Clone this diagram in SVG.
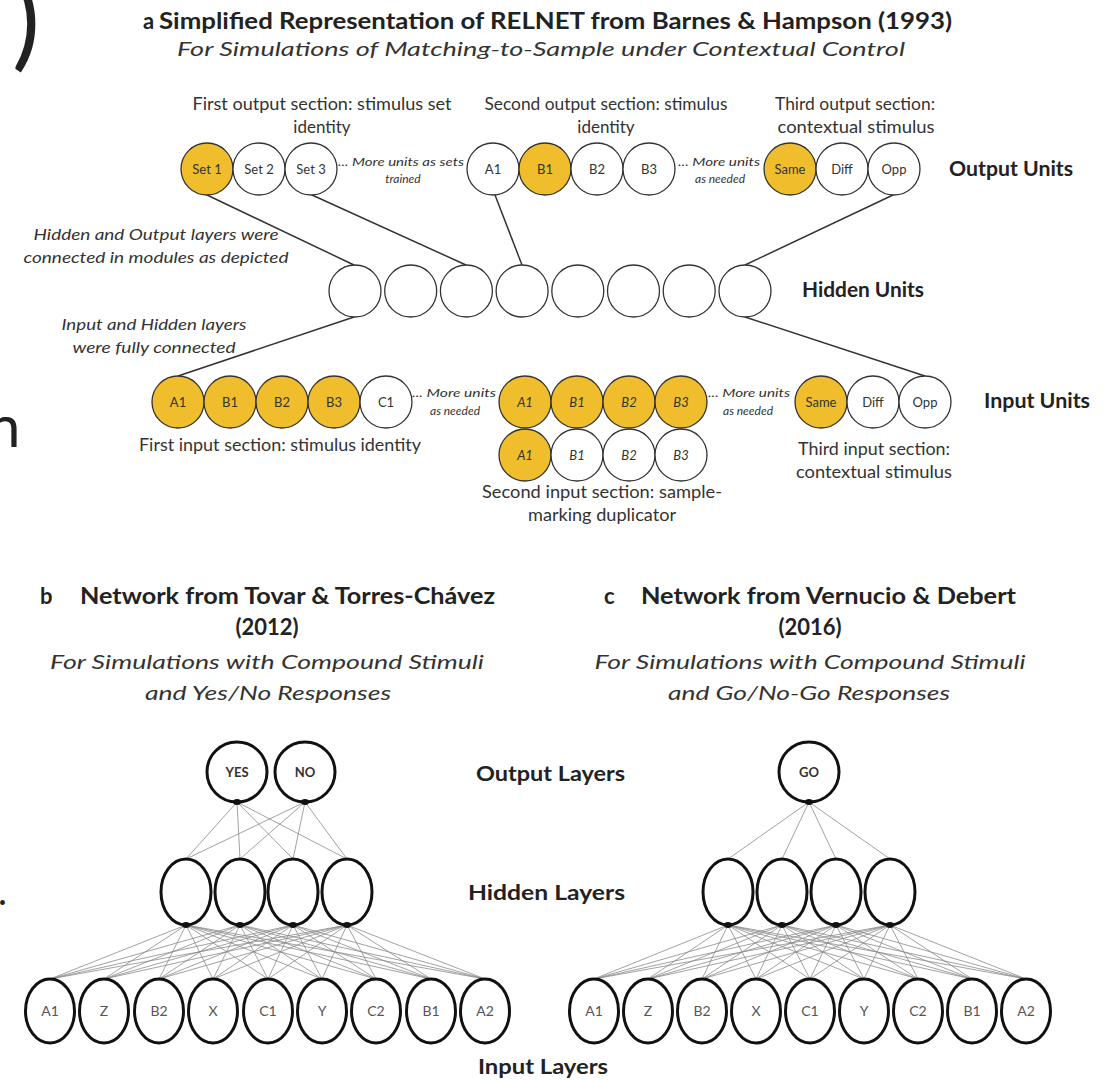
<svg xmlns="http://www.w3.org/2000/svg" width="1107" height="1080" viewBox="0 0 1107 1080">
<defs>
<style>
text{font-family:Lato,"Liberation Sans",sans-serif;fill:#222}
.u{fill:#fff;stroke:#333;stroke-width:1.3}
.y{fill:#F0BE2C}
.lab{font-size:13px;fill:#333;text-anchor:middle}
.ital{font-style:italic}
.sm{font-size:12px;font-style:italic;fill:#333}
.hd{font-size:17px;fill:#333;text-anchor:middle}
.ann{font-size:16px;font-style:italic;fill:#333;text-anchor:middle}
.big{font-size:21px;font-weight:bold}
.ttl{font-size:22px;font-weight:bold}
.sub{font-size:20px;font-style:italic;fill:#333;text-anchor:middle}
.bu{fill:#fff;stroke:#111;stroke-width:3}
.bl{font-size:14px;fill:#555;text-anchor:middle}
.bo{font-size:13px;font-weight:bold;fill:#333;text-anchor:middle}
.conn{stroke:#333;stroke-width:1.5;fill:none}
.thin{stroke:#8a8a8a;stroke-width:0.8;fill:none}
.dot{fill:#111}
</style>
</defs>
<rect width="1107" height="1080" fill="#fff"/>

<!-- cropped fragments at left edge -->
<text x="12" y="57" font-size="105" fill="#111">)</text>
<text x="-12" y="447" font-size="58" fill="#111">n</text>
<text x="-2" y="905" font-size="38" fill="#111">.</text>

<!-- Panel a titles -->
<text x="143" y="29" class="ttl">a</text>
<text x="159" y="29" class="ttl" textLength="793" lengthAdjust="spacingAndGlyphs">Simplified Representation of RELNET from Barnes &amp; Hampson (1993)</text>
<text x="541" y="56" class="sub" textLength="728" lengthAdjust="spacingAndGlyphs">For Simulations of Matching-to-Sample under Contextual Control</text>

<text x="322" y="110" class="hd" textLength="259" lengthAdjust="spacingAndGlyphs">First output section: stimulus set</text>
<text x="322" y="133" class="hd">identity</text>
<text x="606" y="110" class="hd" textLength="243" lengthAdjust="spacingAndGlyphs">Second output section: stimulus</text>
<text x="606" y="133" class="hd">identity</text>
<text x="855" y="110" class="hd" textLength="160" lengthAdjust="spacingAndGlyphs">Third output section:</text>
<text x="856" y="133" class="hd" textLength="157" lengthAdjust="spacingAndGlyphs">contextual stimulus</text>

<text x="949" y="176" class="big" textLength="124" lengthAdjust="spacingAndGlyphs">Output Units</text>
<text x="802" y="297" class="big" textLength="122" lengthAdjust="spacingAndGlyphs">Hidden Units</text>
<text x="984" y="408" class="big" textLength="106" lengthAdjust="spacingAndGlyphs">Input Units</text>

<text x="338" y="166" class="sm" textLength="126" lengthAdjust="spacingAndGlyphs">... More units as sets</text>
<text x="403" y="183" class="sm" text-anchor="middle">trained</text>
<text x="678" y="166" class="sm" textLength="82" lengthAdjust="spacingAndGlyphs">... More units</text>
<text x="720" y="183" class="sm" text-anchor="middle">as needed</text>
<text x="412" y="397" class="sm" textLength="84" lengthAdjust="spacingAndGlyphs">... More units</text>
<text x="455" y="415" class="sm" text-anchor="middle">as needed</text>
<text x="708" y="397" class="sm" textLength="82" lengthAdjust="spacingAndGlyphs">... More units</text>
<text x="748" y="415" class="sm" text-anchor="middle">as needed</text>

<text x="156" y="240" class="ann" textLength="245" lengthAdjust="spacingAndGlyphs">Hidden and Output layers were</text>
<text x="156" y="263" class="ann" textLength="265" lengthAdjust="spacingAndGlyphs">connected in modules as depicted</text>
<text x="154" y="330" class="ann" textLength="185" lengthAdjust="spacingAndGlyphs">Input and Hidden layers</text>
<text x="154" y="353" class="ann" textLength="163" lengthAdjust="spacingAndGlyphs">were fully connected</text>

<text x="280" y="451" class="hd" textLength="282" lengthAdjust="spacingAndGlyphs">First input section: stimulus identity</text>
<text x="602" y="498" class="hd" textLength="240" lengthAdjust="spacingAndGlyphs">Second input section: sample-</text>
<text x="602" y="521" class="hd" textLength="148" lengthAdjust="spacingAndGlyphs">marking duplicator</text>
<text x="874" y="455" class="hd" textLength="152" lengthAdjust="spacingAndGlyphs">Third input section:</text>
<text x="874" y="478" class="hd" textLength="156" lengthAdjust="spacingAndGlyphs">contextual stimulus</text>

<!-- Panel a connectors -->
<g id="connectors-a">
<line class="conn" x1="207" y1="195" x2="354" y2="265"/>
<line class="conn" x1="312" y1="195" x2="466" y2="265"/>
<line class="conn" x1="495" y1="195" x2="522" y2="265"/>
<line class="conn" x1="893" y1="195" x2="745" y2="265"/>
<line class="conn" x1="354" y1="317" x2="178" y2="376"/>
<line class="conn" x1="745" y1="317" x2="925" y2="376"/>
</g>

<!-- Output units -->
<g id="out-set1"><circle class="u y" cx="207" cy="169" r="26"/><text x="207" y="173.5" class="lab">Set 1</text></g>
<g id="out-set2"><circle class="u" cx="259" cy="169" r="26"/><text x="259" y="173.5" class="lab">Set 2</text></g>
<g id="out-set3"><circle class="u" cx="311" cy="169" r="26"/><text x="311" y="173.5" class="lab">Set 3</text></g>
<g id="out-a1"><circle class="u" cx="493" cy="169" r="26"/><text x="493" y="173.5" class="lab">A1</text></g>
<g id="out-b1"><circle class="u y" cx="545" cy="169" r="26"/><text x="545" y="173.5" class="lab">B1</text></g>
<g id="out-b2"><circle class="u" cx="597" cy="169" r="26"/><text x="597" y="173.5" class="lab">B2</text></g>
<g id="out-b3"><circle class="u" cx="649" cy="169" r="26"/><text x="649" y="173.5" class="lab">B3</text></g>
<g id="out-same"><circle class="u y" cx="790" cy="169" r="26"/><text x="790" y="173.5" class="lab">Same</text></g>
<g id="out-diff"><circle class="u" cx="842" cy="169" r="26"/><text x="842" y="173.5" class="lab">Diff</text></g>
<g id="out-opp"><circle class="u" cx="894" cy="169" r="26"/><text x="894" y="173.5" class="lab">Opp</text></g>

<!-- Hidden units -->
<g id="hid-1"><circle class="u" cx="355" cy="291" r="26"/></g>
<g id="hid-2"><circle class="u" cx="410.7" cy="291" r="26"/></g>
<g id="hid-3"><circle class="u" cx="466.4" cy="291" r="26"/></g>
<g id="hid-4"><circle class="u" cx="522.1" cy="291" r="26"/></g>
<g id="hid-5"><circle class="u" cx="577.8" cy="291" r="26"/></g>
<g id="hid-6"><circle class="u" cx="633.5" cy="291" r="26"/></g>
<g id="hid-7"><circle class="u" cx="689.2" cy="291" r="26"/></g>
<g id="hid-8"><circle class="u" cx="745" cy="291" r="26"/></g>

<!-- Input units -->
<g id="in-a1"><circle class="u y" cx="178" cy="402" r="26"/><text x="178" y="406.5" class="lab">A1</text></g>
<g id="in-b1"><circle class="u y" cx="230" cy="402" r="26"/><text x="230" y="406.5" class="lab">B1</text></g>
<g id="in-b2"><circle class="u y" cx="282" cy="402" r="26"/><text x="282" y="406.5" class="lab">B2</text></g>
<g id="in-b3"><circle class="u y" cx="334" cy="402" r="26"/><text x="334" y="406.5" class="lab">B3</text></g>
<g id="in-c1"><circle class="u" cx="386" cy="402" r="26"/><text x="386" y="406.5" class="lab">C1</text></g>
<g id="in2-a1"><circle class="u y" cx="525" cy="402" r="26"/><text x="525" y="406.5" class="lab ital">A1</text></g>
<g id="in2-b1"><circle class="u y" cx="577" cy="402" r="26"/><text x="577" y="406.5" class="lab ital">B1</text></g>
<g id="in2-b2"><circle class="u y" cx="629" cy="402" r="26"/><text x="629" y="406.5" class="lab ital">B2</text></g>
<g id="in2-b3"><circle class="u y" cx="681" cy="402" r="26"/><text x="681" y="406.5" class="lab ital">B3</text></g>
<g id="in2s-a1"><circle class="u y" cx="525" cy="455" r="26"/><text x="525" y="459.5" class="lab ital">A1</text></g>
<g id="in2s-b1"><circle class="u" cx="577" cy="455" r="26"/><text x="577" y="459.5" class="lab ital">B1</text></g>
<g id="in2s-b2"><circle class="u" cx="629" cy="455" r="26"/><text x="629" y="459.5" class="lab ital">B2</text></g>
<g id="in2s-b3"><circle class="u" cx="681" cy="455" r="26"/><text x="681" y="459.5" class="lab ital">B3</text></g>
<g id="in-same"><circle class="u y" cx="821" cy="402" r="26"/><text x="821" y="406.5" class="lab">Same</text></g>
<g id="in-diff"><circle class="u" cx="873" cy="402" r="26"/><text x="873" y="406.5" class="lab">Diff</text></g>
<g id="in-opp"><circle class="u" cx="925" cy="402" r="26"/><text x="925" y="406.5" class="lab">Opp</text></g>

<!-- Panel b/c titles -->
<text x="40" y="604" class="ttl">b</text>
<text x="80" y="604" class="ttl" textLength="415" lengthAdjust="spacingAndGlyphs">Network from Tovar &amp; Torres-Chávez</text>
<text x="267" y="635" class="ttl" text-anchor="middle">(2012)</text>
<text x="267" y="669" class="sub" textLength="434" lengthAdjust="spacingAndGlyphs">For Simulations with Compound Stimuli</text>
<text x="268" y="700" class="sub" textLength="246" lengthAdjust="spacingAndGlyphs">and Yes/No Responses</text>

<text x="604" y="604" class="ttl">c</text>
<text x="641" y="604" class="ttl" textLength="375" lengthAdjust="spacingAndGlyphs">Network from Vernucio &amp; Debert</text>
<text x="810" y="635" class="ttl" text-anchor="middle">(2016)</text>
<text x="810" y="669" class="sub" textLength="431" lengthAdjust="spacingAndGlyphs">For Simulations with Compound Stimuli</text>
<text x="809" y="700" class="sub" textLength="282" lengthAdjust="spacingAndGlyphs">and Go/No-Go Responses</text>

<text x="476" y="781" class="big" textLength="149" lengthAdjust="spacingAndGlyphs">Output Layers</text>
<text x="468" y="900" class="big" textLength="157" lengthAdjust="spacingAndGlyphs">Hidden Layers</text>
<text x="478" y="1074" class="big" textLength="130" lengthAdjust="spacingAndGlyphs">Input Layers</text>

<!-- Panel b/c connectors -->
<g id="connectors-bc">
<path class="thin" d="M186 859L237 802M186 859L305 802M240 859L237 802M240 859L305 802M293 859L237 802M293 859L305 802M347 859L237 802M347 859L305 802"/>
<path class="thin" d="M728 859L809 802M782 859L809 802M836 859L809 802M890 859L809 802"/>
<path class="thin" d="M50 979L186 925M50 979L240 925M50 979L293 925M50 979L347 925
M104 979L186 925M104 979L240 925M104 979L293 925M104 979L347 925
M159 979L186 925M159 979L240 925M159 979L293 925M159 979L347 925
M213 979L186 925M213 979L240 925M213 979L293 925M213 979L347 925
M268 979L186 925M268 979L240 925M268 979L293 925M268 979L347 925
M322 979L186 925M322 979L240 925M322 979L293 925M322 979L347 925
M376 979L186 925M376 979L240 925M376 979L293 925M376 979L347 925
M431 979L186 925M431 979L240 925M431 979L293 925M431 979L347 925
M485 979L186 925M485 979L240 925M485 979L293 925M485 979L347 925"/>
<path class="thin" d="M594 979L728 925M594 979L782 925M594 979L836 925M594 979L890 925
M648 979L728 925M648 979L782 925M648 979L836 925M648 979L890 925
M702 979L728 925M702 979L782 925M702 979L836 925M702 979L890 925
M756 979L728 925M756 979L782 925M756 979L836 925M756 979L890 925
M810 979L728 925M810 979L782 925M810 979L836 925M810 979L890 925
M864 979L728 925M864 979L782 925M864 979L836 925M864 979L890 925
M918 979L728 925M918 979L782 925M918 979L836 925M918 979L890 925
M972 979L728 925M972 979L782 925M972 979L836 925M972 979L890 925
M1026 979L728 925M1026 979L782 925M1026 979L836 925M1026 979L890 925"/>
</g>

<!-- Panel b nodes -->
<g id="b-yes"><circle class="bu y" cx="237" cy="772" r="30"/><text x="237" y="776.5" class="bo">YES</text><ellipse class="dot" cx="237" cy="802" rx="4" ry="3"/></g>
<g id="b-no"><circle class="bu" cx="305" cy="772" r="30"/><text x="305" y="776.5" class="bo">NO</text><ellipse class="dot" cx="305" cy="802" rx="4" ry="3"/></g>
<g id="b-h1"><ellipse class="bu" cx="186" cy="892" rx="25" ry="33"/><ellipse class="dot" cx="186" cy="925" rx="4" ry="3"/></g>
<g id="b-h2"><ellipse class="bu" cx="240" cy="892" rx="25" ry="33"/><ellipse class="dot" cx="240" cy="925" rx="4" ry="3"/></g>
<g id="b-h3"><ellipse class="bu" cx="293" cy="892" rx="25" ry="33"/><ellipse class="dot" cx="293" cy="925" rx="4" ry="3"/></g>
<g id="b-h4"><ellipse class="bu" cx="347" cy="892" rx="25" ry="33"/><ellipse class="dot" cx="347" cy="925" rx="4" ry="3"/></g>
<g id="b-a1"><ellipse class="bu y" cx="50" cy="1011" rx="24.5" ry="32"/><text x="50" y="1016" class="bl">A1</text></g>
<g id="b-z"><ellipse class="bu" cx="104" cy="1011" rx="24.5" ry="32"/><text x="104" y="1016" class="bl">Z</text></g>
<g id="b-b2"><ellipse class="bu" cx="159" cy="1011" rx="24.5" ry="32"/><text x="159" y="1016" class="bl">B2</text></g>
<g id="b-x"><ellipse class="bu" cx="213" cy="1011" rx="24.5" ry="32"/><text x="213" y="1016" class="bl">X</text></g>
<g id="b-c1"><ellipse class="bu" cx="268" cy="1011" rx="24.5" ry="32"/><text x="268" y="1016" class="bl">C1</text></g>
<g id="b-y"><ellipse class="bu" cx="322" cy="1011" rx="24.5" ry="32"/><text x="322" y="1016" class="bl">Y</text></g>
<g id="b-c2"><ellipse class="bu" cx="376" cy="1011" rx="24.5" ry="32"/><text x="376" y="1016" class="bl">C2</text></g>
<g id="b-b1"><ellipse class="bu y" cx="431" cy="1011" rx="24.5" ry="32"/><text x="431" y="1016" class="bl">B1</text></g>
<g id="b-a2"><ellipse class="bu" cx="485" cy="1011" rx="24.5" ry="32"/><text x="485" y="1016" class="bl">A2</text></g>

<!-- Panel c nodes -->
<g id="c-go"><circle class="bu y" cx="809" cy="772" r="30"/><text x="809" y="776.5" class="bo">GO</text><ellipse class="dot" cx="809" cy="802" rx="4" ry="3"/></g>
<g id="c-h1"><ellipse class="bu" cx="728" cy="892" rx="25" ry="33"/><ellipse class="dot" cx="728" cy="925" rx="4" ry="3"/></g>
<g id="c-h2"><ellipse class="bu" cx="782" cy="892" rx="25" ry="33"/><ellipse class="dot" cx="782" cy="925" rx="4" ry="3"/></g>
<g id="c-h3"><ellipse class="bu" cx="836" cy="892" rx="25" ry="33"/><ellipse class="dot" cx="836" cy="925" rx="4" ry="3"/></g>
<g id="c-h4"><ellipse class="bu" cx="890" cy="892" rx="25" ry="33"/><ellipse class="dot" cx="890" cy="925" rx="4" ry="3"/></g>
<g id="c-a1"><ellipse class="bu y" cx="594" cy="1011" rx="24.5" ry="32"/><text x="594" y="1016" class="bl">A1</text></g>
<g id="c-z"><ellipse class="bu" cx="648" cy="1011" rx="24.5" ry="32"/><text x="648" y="1016" class="bl">Z</text></g>
<g id="c-b2"><ellipse class="bu" cx="702" cy="1011" rx="24.5" ry="32"/><text x="702" y="1016" class="bl">B2</text></g>
<g id="c-x"><ellipse class="bu" cx="756" cy="1011" rx="24.5" ry="32"/><text x="756" y="1016" class="bl">X</text></g>
<g id="c-c1"><ellipse class="bu" cx="810" cy="1011" rx="24.5" ry="32"/><text x="810" y="1016" class="bl">C1</text></g>
<g id="c-y"><ellipse class="bu" cx="864" cy="1011" rx="24.5" ry="32"/><text x="864" y="1016" class="bl">Y</text></g>
<g id="c-c2"><ellipse class="bu" cx="918" cy="1011" rx="24.5" ry="32"/><text x="918" y="1016" class="bl">C2</text></g>
<g id="c-b1"><ellipse class="bu y" cx="972" cy="1011" rx="24.5" ry="32"/><text x="972" y="1016" class="bl">B1</text></g>
<g id="c-a2"><ellipse class="bu" cx="1026" cy="1011" rx="24.5" ry="32"/><text x="1026" y="1016" class="bl">A2</text></g>
</svg>
